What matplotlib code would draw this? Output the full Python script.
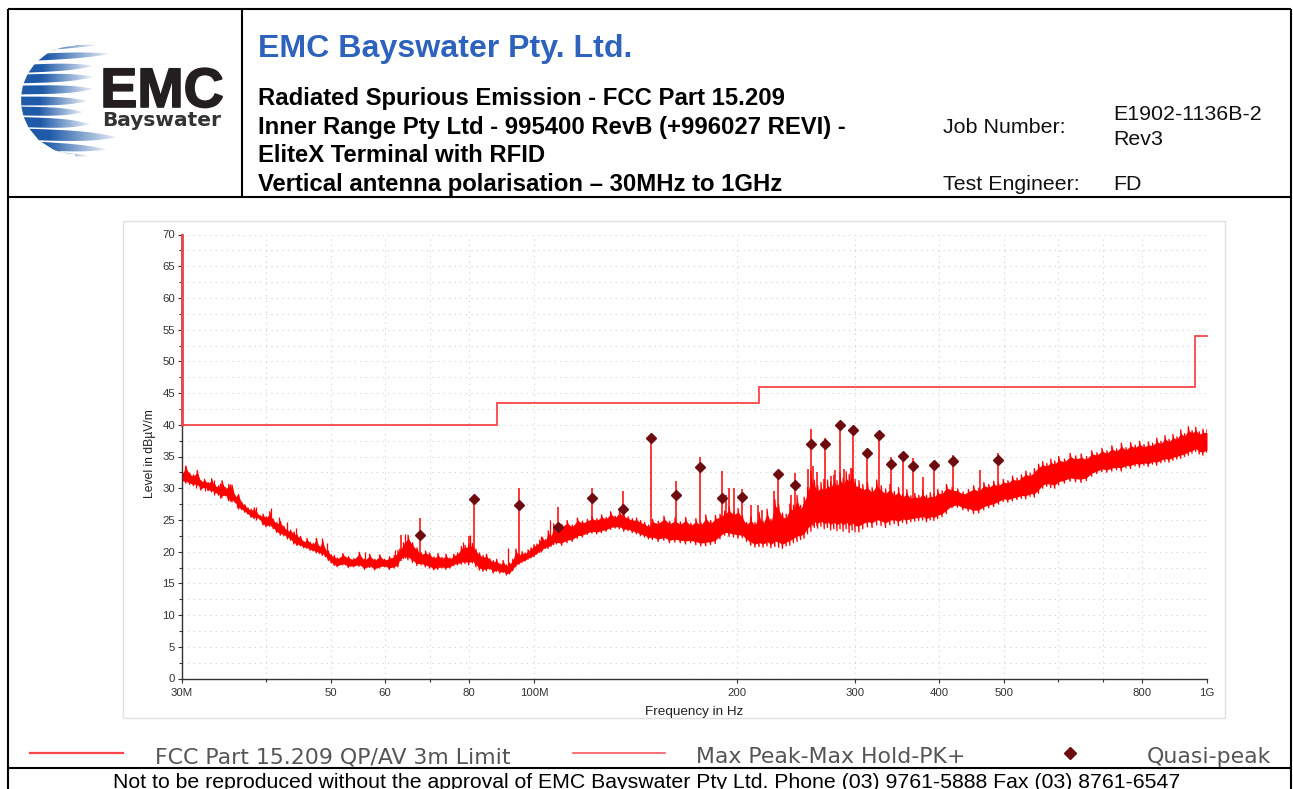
"""plot.py -- radiated spurious emission test sheet, 30 MHz to 1 GHz."""
import matplotlib
matplotlib.use("Agg")
import matplotlib.pyplot as plt
import matplotlib.patheffects as pe
import numpy as np
from matplotlib.patches import Polygon, Rectangle
from matplotlib.ticker import FixedLocator, NullFormatter

plt.rcParams["font.family"] = ["Liberation Sans", "DejaVu Sans"]

# limit line (MHz, dBuV/m)
limit_f = [30, 30, 88, 88, 216, 216, 960, 960, 1000]
limit_db = [70, 40, 40, 43.5, 43.5, 46, 46, 54, 54]

# quasi-peak markers
qp_f = [67.8, 81.5, 94.9, 108.6, 122, 135.4, 149.2, 162.5, 176.3, 190, 203.5, 230.4, 244.3,
        257.7, 271, 284.9, 298.2, 312.5, 325.6, 339.3, 353, 365.8, 393.4, 420, 489]
qp_db = [22.7, 28.3, 27.3, 23.9, 28.4, 26.7, 37.85, 29.0, 33.4, 28.5, 28.6, 32.3, 30.5,
         36.9, 37.0, 40.0, 39.1, 35.5, 38.4, 33.8, 35.1, 33.5, 33.7, 34.3, 34.5]

# narrow spikes of the peak trace
spike_f = [67.8, 81.5, 94.9, 108.6, 122, 135.4, 149.2, 162.5, 176.3, 190, 203.5, 230.4, 244.3,
           257.7, 271, 284.9, 298.2, 312.5, 325.6, 339.3, 353, 365.8, 378, 393.4, 420, 459.6, 489,
           63.5, 80.2, 193, 195, 198, 210, 215, 218, 227, 241, 252, 255.6, 260, 263.5,
           269.5, 276, 280, 289, 296]
spike_top = [25.3, 28.3, 30, 27, 30.1, 29.6, 37.85, 31.1, 35, 32.7, 29.9, 32.3, 32.4,
             39.3, 37.9, 40, 39.5, 35.5, 38.4, 35, 35.1, 34.7, 31.7, 33.7, 35.2, 32.9, 35.5,
             22.6, 22.5, 29, 30, 30, 27.3, 27.3, 26.6, 29.5, 28.9, 27.5, 33, 33.5, 32.5,
             31.5, 32, 32.8, 33, 33.2]
spike_base = [19, 19, 19.5, 22, 24, 24, 24, 23, 23, 23, 23, 23, 24,
              25, 25, 25, 25, 26, 26, 26, 26, 26, 26, 26, 27, 28, 29,
              18.5, 19, 23, 23, 23, 22, 22, 22, 23, 23, 24, 24, 24, 24,
              25, 25, 25, 25, 25]

# smaller noise peaks standing above the low-frequency band
noise_f = [30.3, 31.5, 32.5, 33.5, 34.2, 35.3, 36.2, 38.6, 40.7, 41.8, 43, 44.3, 47.5, 49.3,
           56.2, 62.2, 64.3, 78.5, 80.3, 91.4, 102.4, 105.7, 112.5]
noise_top = [33.5, 32, 31.1, 31.3, 30.8, 30.6, 29, 27, 26.9, 25.5, 24.7, 23.8, 22.1, 21.3,
             20, 20.3, 22.8, 21.5, 22.6, 20.5, 22.5, 25, 24.3]
noise_base = [31, 30, 29.5, 29, 28.5, 28, 27, 25, 24, 23.5, 22, 21, 20, 19,
              18, 18.5, 19, 18.5, 18.5, 17, 20, 21, 22]

# peak trace, lower and upper edge read along the band
band1_f = [30, 30.4, 30.8, 31.2, 31.6, 32, 32.4, 32.8, 33.2, 33.6, 34, 34.4, 34.8, 35.2, 35.6,
           36, 36.4, 36.8, 37.2, 37.6, 38, 38.4, 38.8, 39.2, 39.6, 40, 40.5, 41, 41.5, 42,
           42.5, 43, 43.5, 44, 44.5, 45, 45.5, 46, 46.5, 47, 47.5, 48, 48.5, 49, 49.5, 50]
band1_lo = [31, 30.8, 30.6, 30.4, 30.4, 29.7, 30.1, 29.6, 29.4, 29.2, 28.9, 28.5, 28.8, 28.0, 27.8,
            27.7, 26.7, 26.6, 26.2, 25.9, 25.4, 25.2, 25.3, 25.0, 24.2, 23.9, 24.0, 23.6, 23.0, 22.6,
            22.5, 22.2, 21.8, 21.2, 21.0, 20.9, 20.6, 20.5, 20.2, 20.1, 19.8, 19.7, 19.4, 19.2, 18.6, 18.2]
band1_hi = [32.5, 33.5, 32.4, 32.1, 32.8, 31.2, 31.4, 30.9, 31.5, 30.5, 30.4, 31.2, 30.1, 30.6, 30.5,
            28.8, 29, 27.8, 27.4, 26.9, 26.7, 26.9, 26.1, 25.7, 25.9, 25.5, 26.3, 25.1, 24.6, 24.8,
            24.0, 23.5, 23.4, 23.1, 22.6, 22.4, 21.6, 22.1, 21.5, 21.3, 22.1, 20.8, 22.0, 20.4, 20.1, 19.5]

band2_f = [50.5, 51, 52, 53, 54, 55, 56, 57, 58, 59, 60, 61, 62, 62.8, 63.2, 64, 65, 66, 67, 68,
           69, 70, 71, 72, 73, 74, 75, 76, 77, 78, 79, 80, 81, 82, 83, 84, 85, 86, 87, 88,
           89, 90, 91, 92, 93, 94, 95, 96, 97, 98, 99, 100, 101, 102, 103, 104, 105, 106, 107, 108]
band2_lo = [17.8, 17.6, 17.9, 17.5, 17.6, 17.7, 17.2, 17.5, 17.1, 17.4, 17.6, 17.2, 17.4, 17.6, 18.6, 18.9,
            18.7, 18.3, 17.8, 17.9, 17.6, 17.4, 17.1, 17.2, 17.4, 17.2, 17.4, 17.8, 17.9, 18, 18.1, 17.9,
            18.2, 17.6, 17.1, 16.9, 17, 17.2, 16.6, 16.9, 16.6, 16.7, 16.3, 16.5, 17, 17.6, 18, 18.3, 18.5,
            18.8, 19, 19.2, 19.6, 19.9, 20.2, 20.5, 20.5, 20.8, 21.1, 21.2]
band2_hi = [19.4, 19, 19.7, 19.2, 18.9, 19.9, 18.8, 19.6, 18.8, 19.5, 18.8, 19.2, 19.4, 20.2, 20.4, 21.4,
            22.6, 21.4, 20.6, 19.8, 20.1, 19.8, 19.2, 19.7, 19.1, 19.6, 19, 19.6, 19.8, 20.8, 21, 21.2,
            21.3, 20.4, 19.8, 19.4, 19.6, 18.9, 18.6, 18.8, 18.1, 18.6, 17.9, 18.2, 18.8, 20.4, 19.6, 20, 19.8,
            20.3, 20.6, 21.1, 21.2, 21.8, 22.2, 21.9, 23.3, 22.5, 24.4, 23.1]

band3_f = [110, 112, 114, 116, 118, 120, 122, 124, 126, 128, 130, 132, 134, 136, 138, 140, 142, 144,
           146, 148, 150, 153, 156, 159, 162, 165, 168, 171, 174, 177, 180, 183, 186, 189, 192,
           195, 198, 201, 204, 207, 210, 213, 216, 219, 222, 225, 228, 231, 234, 237, 240, 243,
           246, 249, 252, 255, 258, 261, 264, 267, 270, 273, 276, 279, 282, 285, 288, 291, 294, 297, 300]
band3_lo = [21.0, 21.4, 21.6, 22.1, 22.3, 22.7, 22.9, 22.8, 23, 23.2, 23.5, 23.7, 23.6, 23.2, 23.3, 23.0, 22.8, 22.5,
            22.3, 22.0, 21.9, 21.6, 21.8, 21.4, 21.5, 21.4, 21.2, 21.4, 21.1, 20.9, 20.9, 21.1, 21.3, 22.0, 22.6,
            22.4, 22.3, 22.1, 22.2, 21.6, 21, 20.7, 20.8, 20.7, 20.9, 20.6, 20.8, 20.7, 20.5, 20.9, 21.0, 21.4,
            21.6, 21.9, 22.1, 22.8, 23.2, 23.8, 23.7, 24.0, 23.6, 23.8, 23.4, 23.6, 23.3, 23.6, 23.2, 23.6, 23.0, 23.4, 23.1]
band3_hi = [24.3, 24.9, 24.2, 25.3, 24.8, 25.1, 25.5, 25.2, 25.8, 25.4, 26.3, 25.6, 26.4, 25.9, 25.5, 25.2, 25.3, 24.9,
            24.6, 24.2, 25.1, 24.8, 25.6, 24.8, 25.3, 24.7, 25.4, 24.5, 25.2, 24.6, 25.8, 24.9, 25.7, 25.9, 26.4,
            27, 26.3, 26.8, 25.7, 24.6, 25.5, 24.6, 26.2, 24.8, 26.7, 25.1, 28.2, 27.4, 26.1, 25.9, 27.5, 27.3,
            28.9, 27.3, 28.6, 30.1, 32.6, 31.3, 30.4, 30.9, 30.5, 31.3, 31, 32.1, 31.2, 32.4, 31.6, 32.6, 32.2, 33, 31.4]

band4_f = [304, 308, 313, 318, 323, 328, 333, 338, 343, 348, 353, 358, 363, 368, 373, 378, 383, 388, 393, 398, 404,
           410, 418, 426, 434, 442, 450, 458, 466, 474, 482, 490, 498, 506, 514, 522, 530, 538, 546, 554, 562,
           570, 578, 586, 594, 602, 614, 626, 638, 650, 662, 674, 686, 698, 710, 722, 734, 746, 758, 770, 782,
           794, 806, 818, 830, 842, 854, 866, 878, 890, 902, 914, 926, 938, 950, 962, 974, 986, 1000]
band4_lo = [23.1, 23.6, 23.9, 23.8, 24.2, 24.1, 23.8, 24.2, 24.4, 24.1, 24.6, 24.4, 24.7, 24.8, 24.9, 25.0, 24.7, 25, 24.9, 25.2, 25.5,
            26, 26.9, 27, 26.6, 26.4, 26.0, 26.1, 26.6, 26.9, 27.1, 27.5, 27.9, 27.8, 28, 28.2, 28.4, 28.3, 28.7, 28.6, 29.2,
            30, 30.3, 30.1, 30.0, 30.5, 30.8, 31.1, 31, 30.9, 31.2, 31.9, 32.3, 32.6, 32.5, 32.7, 32.9, 32.7, 33.2, 33.1, 33.5,
            33.3, 33.6, 33.4, 33.8, 33.6, 34, 34.2, 34.1, 34.4, 34.6, 34.7, 35, 35.2, 35.5, 35.8, 35.4, 35.2, 35.6]
band4_hi = [31.2, 30.6, 30.9, 30.1, 31.3, 30.4, 29.9, 30.6, 29.5, 30.1, 29.1, 29.8, 28.8, 29.2, 28.9, 29.7, 28.9, 29.3, 29.1, 29.8, 29.6,
            30.6, 30.1, 29.9, 29.4, 29.8, 30.4, 30.0, 30.9, 30.6, 31.1, 30.8, 31.4, 31.2, 31.9, 31.6, 32.1, 32.7, 32.4, 33.1, 33.8,
            34.2, 33.9, 34.6, 34.3, 35, 34.6, 35.5, 35.1, 35.4, 35, 35.9, 35.6, 36.3, 35.9, 36.7, 36.2, 37.1, 36.4, 37.2, 36.8,
            37.4, 36.9, 37.3, 37.1, 37.9, 37.4, 38.3, 37.7, 38.5, 38.1, 39.2, 38.6, 39.7, 39.1, 39.6, 38.9, 39.3, 39.2]

# axis labels
x_major = [30, 50, 60, 80, 100, 200, 300, 400, 500, 800, 1000]
x_major_labels = ["30M", "50", "60", "80", "100M", "200", "300", "400", "500", "800", "1G"]
x_minor = [40, 70, 600, 700]
y_major = list(range(0, 75, 5))
y_minor = [2.5, 7.5, 12.5, 17.5, 22.5, 27.5, 32.5, 37.5, 42.5, 47.5, 52.5, 57.5, 62.5, 67.5]

# logo stripes: y position in pixels, half thickness, right end
stripe_y = [50, 58, 69, 79, 90, 101, 111, 122, 134, 145, 151]
stripe_t = [1.8, 3.4, 4, 4.4, 4.4, 4.4, 4.4, 5, 5.6, 4.2, 2]
stripe_r = [97, 110, 93, 93, 93, 87, 83, 90, 117, 107, 90]

W, H = 1293, 789
fig = plt.figure(figsize=(W / 100, H / 100), dpi=100)
bg = fig.add_axes([0, 0, 1, 1])

# table frame
for xs, ys in [((8, 1291), (9, 9)), ((8, 8), (9, 789)), ((1291, 1291), (9, 789)),
               ((8, 1291), (197, 197)), ((241.5, 241.5), (9, 197)), ((8, 1291), (768, 768))]:
    bg.plot(xs, ys, color="black", lw=1.5, solid_capstyle="butt")
bg.add_patch(Rectangle((123, 221), 1102, 497, fc="white", ec="#e0e0e0", lw=1.0))

# logo: fading stripes cut on the left by the globe outline
cx, cy, rad = 75, 100, 54
for y0, t, xr in zip(stripe_y, stripe_t, stripe_r):
    xl = cx - rad - 2
    xs = np.linspace(xl, xr, 80)
    s = (xs - xl) / (xr - xl)
    mid = y0 + 0.1 * (y0 - cy) * s
    top = mid - t * (1 - s**4)
    bot = mid + t * (1 - s**4)
    pts = np.r_[np.c_[xs, top], np.c_[xs[::-1], bot[::-1]]]
    edge = cx - np.sqrt(np.clip(rad**2 - (pts[:, 1] - cy)**2, 0, None))
    pts[:, 0] = np.maximum(pts[:, 0], edge)
    poly = Polygon(pts, fc="none", ec="none")
    bg.add_patch(poly)
    grad = np.ones((1, 64, 4))
    grad[..., :3] = matplotlib.colors.to_rgb("#1f5aa8")
    grad[..., 3] = np.clip(1.4 - 1.3 * np.linspace(0, 1, 64), 0, 1)
    im = bg.imshow(grad, extent=(xl, xr, y0 + 14, y0 - 14), aspect="auto", zorder=2)
    im.set_clip_path(poly)
bg.set_xlim(0, W)
bg.set_ylim(H, 0)
bg.axis("off")
bg.text(162, 107, "EMC", color="#231f20", fontsize=40, fontweight="bold", ha="center", va="baseline", zorder=3,
        path_effects=[pe.withStroke(linewidth=1.2, foreground="#231f20")])
bg.text(162, 126, "Bayswater", color="#333333", fontsize=14.5, fontweight="bold", ha="center", va="baseline",
        zorder=3, family=["DejaVu Sans"])

# header text
bg.text(258, 49, "EMC Bayswater Pty. Ltd.", color="#2e63bd", fontsize=23.15, fontweight="bold", va="center")
for y, line in [(98, "Radiated Spurious Emission - FCC Part 15.209"),
                (127, "Inner Range Pty Ltd - 995400 RevB (+996027 REVI) -"),
                (155, "EliteX Terminal with RFID"),
                (184, "Vertical antenna polarisation \u2013 30MHz to 1GHz")]:
    bg.text(258, y, line, color="black", fontsize=17.2, fontweight="bold", va="center")
bg.text(943, 127, "Job Number:", fontsize=15.4, color="#111111", va="center")
bg.text(1113, 114, "E1902-1136B-2", fontsize=15.4, color="#111111", va="center")
bg.text(1113, 139, "Rev3", fontsize=15.4, color="#111111", va="center")
bg.text(943, 184, "Test Engineer:", fontsize=15.4, color="#111111", va="center")
bg.text(1113, 184, "FD", fontsize=15.4, color="#111111", va="center")

# chart
ax = fig.add_axes([182 / W, 1 - 678.5 / H, (1207 - 182) / W, (678.5 - 234.5) / H])
ax.patch.set_alpha(0)
ax.set_xscale("log")
ax.set_xlim(30, 1000)
ax.set_ylim(0, 70)
ax.grid(which="both", color="#cfcfcf", lw=0.8, ls=(0, (1, 4)))
ax.set_axisbelow(True)

trace_f = np.r_[band1_f, band2_f, band3_f, band4_f]
trace_lo = np.r_[band1_lo, band2_lo, band3_lo, band4_lo]
trace_hi = np.r_[band1_hi, band2_hi, band3_hi, band4_hi]
# the sweep runs up and down between the two edges, with a solid core
ax.fill_between(trace_f, 0.88 * trace_lo + 0.12 * trace_hi, 0.12 * trace_lo + 0.88 * trace_hi, color="#ff0000", lw=0)
ax.plot(np.repeat(trace_f, 2), np.column_stack([trace_lo, trace_hi]).ravel(), color="#ff0000", lw=0.9)
ax.vlines(spike_f, spike_base, spike_top, color="#ff0000", lw=1.1)
ax.vlines(noise_f, noise_base, noise_top, color="#ff0000", lw=0.9)
ax.plot(limit_f, limit_db, color="#f8474b", lw=1.3, clip_on=False, solid_joinstyle="miter", zorder=4)
ax.plot(limit_f[:2], limit_db[:2], color="#e8474b", lw=2.0, clip_on=False, zorder=4)
ax.plot(qp_f, qp_db, ls="none", marker="D", ms=4.6, color="#6e0b0f", zorder=5)

for side in ["top", "right"]:
    ax.spines[side].set_visible(False)
for side in ["left", "bottom"]:
    ax.spines[side].set_color("#333333")
    ax.spines[side].set_linewidth(1.0)
ax.xaxis.set_major_locator(FixedLocator(x_major))
ax.xaxis.set_minor_locator(FixedLocator(x_minor))
ax.xaxis.set_minor_formatter(NullFormatter())
ax.set_xticklabels(x_major_labels)
ax.yaxis.set_major_locator(FixedLocator(y_major))
ax.yaxis.set_minor_locator(FixedLocator(y_minor))
ax.tick_params(axis="both", which="major", labelsize=8.2, length=3, width=0.8, colors="#333333", pad=2)
ax.tick_params(axis="both", which="minor", length=2.5, width=0.8, color="#333333")
ax.tick_params(axis="x", pad=4)

bg.text(150, 454, "Level in dB\u00b5V/m", rotation=90, fontsize=8.7, color="#222222", ha="center", va="center")
bg.text(694.5, 711.5, "Frequency in Hz", fontsize=9.7, color="#222222", ha="center", va="center")

# legend row
bg.plot([30, 123], [753, 753], color="#f8474b", lw=1.6)
bg.plot([573, 665], [753, 753], color="#f8474b", lw=1.1)
bg.plot([1070], [753], marker="D", ms=6, color="#6e0b0f", ls="none")
bg.text(155, 757, "FCC Part 15.209 QP/AV 3m Limit", fontsize=15.8, color="#555555", va="center", family=["DejaVu Sans"])
bg.text(696, 757, "Max Peak-Max Hold-PK+", fontsize=15.8, color="#555555", va="center", family=["DejaVu Sans"])
bg.text(1147, 757, "Quasi-peak", fontsize=15.8, color="#555555", va="center", family=["DejaVu Sans"])

bg.text(646.5, 782, "Not to be reproduced without the approval of EMC Bayswater Pty Ltd. Phone (03) 9761-5888 Fax (03) 8761-6547",
        fontsize=15.3, color="black", ha="center", va="center")

fig.savefig("out.png", dpi=100)
